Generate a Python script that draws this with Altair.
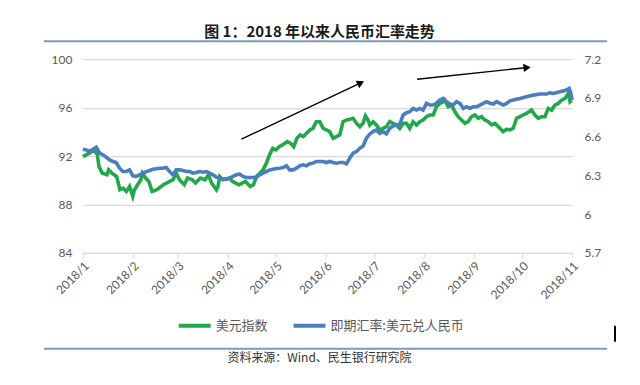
import altair as alt
import pandas as pd

# ---------------- data ----------------
series_names = ["美元指数", "即期汇率:美元兑人民币"]

# 美元指数 (left axis): day offset from 2018-01-01, value
green_days = [0, 2, 4, 7, 9, 10, 12, 15, 16, 18, 21, 23, 25, 27, 29, 31, 32, 34, 36, 37,
              39, 41, 43, 46, 50, 54, 56, 58, 60, 63, 65, 68, 70, 73, 76, 78, 80, 83, 84, 85,
              87, 91, 93, 97, 99, 101, 104, 106, 108, 112, 114, 116, 118, 120, 122, 124, 127, 129, 131, 133,
              135, 137, 139, 141, 143, 145, 147.2, 149.3, 151.3, 153.4, 155.5, 157.5, 159.6, 161.7, 163.8, 165.8,
              167.9, 170, 172.1, 174.1, 175.6, 177.2, 178.3, 180.3, 182.4, 184.5, 186.6, 188.6, 190.7, 192.8,
              194.9, 196.9, 199, 201.1, 203.1, 205.2, 207.3, 209.4, 211.4, 213.5, 215.6, 217.7, 219.7, 221.8,
              223.9, 224.9, 227, 229.1, 231.2, 233.2, 235.3, 237.4, 239.4, 241.5, 243.6, 245.7, 247.7, 249.8,
              251.9, 254, 256, 258.1, 260.2, 261.2, 263.3, 265.4, 267.4, 269.5, 271.6, 273.6, 275.7, 278.8,
              280.9, 283, 285, 287.1, 289.2, 291.3, 293.3, 295.4, 297.5, 299.6, 301.6, 302.7, 303.7]
green_vals = [91.96, 92.10, 92.23, 92.51, 92.10, 91.14, 90.59, 90.45, 90.86, 90.59, 90.31, 89.22, 89.35, 89.08, 89.49, 88.67, 89.20, 89.63, 90.04, 90.59,
              90.18, 89.90, 89.08, 89.22, 89.63, 89.90, 90.04, 90.59, 90.04, 89.63, 90.18, 90.04, 89.77, 90.18, 90.04, 90.45, 89.77, 89.22, 89.49, 90.31,
              90.04, 90.18, 89.90, 89.63, 89.77, 89.90, 89.49, 89.63, 90.31, 90.86, 91.41, 92.10, 92.64, 92.51, 92.78, 92.92, 93.19, 93.06, 92.78, 93.47,
              93.74, 93.61, 93.88, 94.16, 94.29, 94.84, 94.84, 94.29, 94.16, 94.02, 93.47, 93.61, 93.74, 94.84, 94.98, 95.03,
              95.12, 94.70, 94.43, 94.70, 95.31, 94.98, 94.57, 94.84, 94.57, 94.16, 94.29, 94.43, 94.84, 94.70,
              94.57, 94.29, 94.70, 94.70, 94.29, 94.84, 94.57, 94.84, 94.98, 95.25, 95.39, 95.39, 96.08, 96.35,
              96.49, 96.62, 96.08, 96.21, 95.66, 95.25, 94.98, 94.70, 94.84, 95.25, 95.39, 95.12, 95.25, 94.98,
              94.84, 94.57, 94.70, 94.43, 94.16, 94.02, 94.21, 94.16, 94.29, 95.12, 95.25, 95.39, 95.53, 95.80,
              95.39, 95.12, 95.25, 95.25, 95.94, 95.80, 96.21, 96.35, 96.62, 96.76, 97.17, 96.49, 96.62]

# 即期汇率:美元兑人民币 (right axis)
blue_days = [0, 2.1, 4.1, 6.2, 8.3, 10.4, 12.4, 14.5, 16.6, 18.7, 20.7, 22.8, 24.9, 26.9, 29.0, 31.1, 33.2, 35.2, 37.3, 39.4,
             41.5, 43.5, 45.6, 47.7, 49.8, 51.8, 53.9, 56.0, 58.0, 60.1, 62.2, 64.3, 66.3, 68.4, 70.5, 72.6, 74.6, 76.7, 78.8, 80.8,
             82.9, 85.0, 87.1, 89.1, 91.2, 93.3, 95.4, 97.4, 99.5, 101.6, 103.6, 105.7, 107.8, 109.9, 111.9, 114.0, 116.1, 118.2, 120.2, 122.3,
             124.4, 126.5, 128.5, 130.6, 132.7, 134.7, 136.8, 138.9, 141.0, 143.0, 145.1, 147.2, 149.3, 151.3, 153.4, 155.5, 157.5, 159.6, 161.7, 163.8,
             165.8, 167.9, 170.0, 172.1, 174.1, 176.2, 178.3, 180.3, 182.4, 184.5, 186.6, 188.6, 190.7, 192.8, 194.9, 196.9, 199.0, 201.1, 203.1, 205.2,
             207.3, 209.4, 211.4, 213.5, 215.6, 217.7, 219.7, 221.8, 223.9, 226.0, 228.1, 230.1, 232.2, 234.3, 236.4, 238.4, 240.5, 242.6, 244.7, 246.7,
             248.8, 250.9, 253.0, 255.0, 257.1, 259.2, 261.3, 263.3, 265.4, 267.4, 271.6, 275.7, 279.9, 284.0, 288.1, 290.2, 292.3, 296.4, 300.5, 302.2,
             303.0, 304.0]
blue_vals = [6.503, 6.498, 6.485, 6.503, 6.518, 6.472, 6.459, 6.441, 6.420, 6.408, 6.400, 6.356, 6.330, 6.330, 6.343, 6.297, 6.292, 6.305, 6.317, 6.330,
             6.338, 6.348, 6.351, 6.356, 6.356, 6.361, 6.330, 6.305, 6.343, 6.343, 6.338, 6.330, 6.330, 6.317, 6.322, 6.330, 6.325, 6.330, 6.317, 6.305,
             6.287, 6.279, 6.271, 6.271, 6.279, 6.292, 6.305, 6.310, 6.292, 6.284, 6.284, 6.284, 6.287, 6.305, 6.317, 6.330, 6.343, 6.348, 6.353, 6.356,
             6.361, 6.374, 6.343, 6.343, 6.356, 6.374, 6.382, 6.374, 6.390, 6.395, 6.408, 6.408, 6.408, 6.400, 6.408, 6.400, 6.395, 6.400, 6.400, 6.390,
             6.433, 6.472, 6.485, 6.510, 6.528, 6.588, 6.621, 6.639, 6.652, 6.626, 6.639, 6.621, 6.665, 6.683, 6.691, 6.696, 6.768, 6.786, 6.793, 6.819,
             6.806, 6.819, 6.806, 6.858, 6.845, 6.845, 6.858, 6.884, 6.896, 6.871, 6.853, 6.845, 6.871, 6.858, 6.819, 6.832, 6.819, 6.832, 6.832, 6.845,
             6.858, 6.871, 6.858, 6.853, 6.871, 6.858, 6.845, 6.858, 6.878, 6.884, 6.896, 6.909, 6.922, 6.930, 6.930, 6.940, 6.935, 6.948, 6.961, 6.974,
             6.948, 6.884]

left_ticks = [84, 88, 92, 96, 100]
right_ticks = [5.7, 6.0, 6.3, 6.6, 6.9, 7.2]
month_ticks = list(range(1, 12))  # 2018/1 ... 2018/11

# trend arrows (drawn on the left-axis scale)
arrow_start_days = [98.5, 207.7]
arrow_start_vals = [93.4, 98.35]
arrow_end_days = [172.0, 275.3]
arrow_end_vals = [98.0, 99.3]
arrow_angles = [64.7, 83.9]

title_text = "图 1：2018 年以来人民币汇率走势"
source_text = "资料来源：Wind、民生银行研究院"

# ---------------- build ----------------
base = pd.Timestamp("2018-01-01")


def to_dates(days):
    return [(base + pd.Timedelta(days=float(d))).strftime("%Y-%m-%dT%H:%M:%S") for d in days]


green_df = pd.DataFrame({"date": to_dates(green_days), "value": green_vals, "series": series_names[0]})
blue_df = pd.DataFrame({"date": to_dates(blue_days), "value": blue_vals, "series": series_names[1]})
arrow_df = pd.DataFrame({
    "x0": to_dates(arrow_start_days), "y0": arrow_start_vals,
    "x1": to_dates(arrow_end_days), "y1": arrow_end_vals,
    "angle": arrow_angles,
})

GREEN = "#22A84A"
BLUE = "#4A7EC0"
LABEL = "#595959"
GRID = "#D9D9D9"
NUMFONT = "Lato"
CJK = "Noto Sans CJK SC"

W, H = 490, 194

x_scale = alt.Scale(domain=[alt.DateTime(year=2018, month=1, date=1),
                            alt.DateTime(year=2018, month=11, date=1)])
x_axis = alt.Axis(values=[alt.DateTime(year=2018, month=m, date=1) for m in month_ticks],
                  format="%Y/%-m", labelAngle=315, title=None, grid=False,
                  domain=True, domainColor=GRID, ticks=True, tickColor=GRID, tickSize=5,
                  labelColor=LABEL, labelFont=NUMFONT, labelFontSize=12, labelPadding=2,
                  labelOverlap=False, labelFlush=False)

left_scale = alt.Scale(domain=[84, 100], nice=False, zero=False)
left_axis = alt.Axis(values=left_ticks, title=None, grid=True, gridColor=GRID, gridWidth=1.3,
                     domain=False, ticks=False, labelColor=LABEL, labelFont=NUMFONT,
                     labelFontSize=12, labelPadding=11)
right_scale = alt.Scale(domain=[5.7, 7.2], nice=False, zero=False)
right_axis = alt.Axis(orient="right", values=right_ticks, format=".2~f", title=None, grid=False,
                      domain=False, ticks=False, labelColor=LABEL, labelFont=NUMFONT,
                      labelFontSize=12, labelPadding=12)

color_scale = alt.Scale(domain=series_names, range=[GREEN, BLUE])
legend = alt.Legend(orient="none", legendX=94, legendY=249, direction="horizontal", title=None,
                    symbolType="stroke", symbolStrokeWidth=4, symbolSize=1024,
                    labelFont=CJK, labelFontSize=13, labelColor=LABEL, labelOffset=3,
                    columnPadding=17, padding=0)

green = alt.Chart(green_df).mark_line(strokeWidth=3.6).encode(
    x=alt.X("date:T", scale=x_scale, axis=x_axis),
    y=alt.Y("value:Q", scale=left_scale, axis=left_axis),
    color=alt.Color("series:N", scale=color_scale, legend=legend, sort=series_names),
)

arrow_lines = alt.Chart(arrow_df).mark_rule(color="black", strokeWidth=1.4).encode(
    x=alt.X("x0:T", scale=x_scale, axis=x_axis), x2="x1:T",
    y=alt.Y("y0:Q", scale=left_scale, axis=left_axis), y2="y1:Q",
)
arrow_heads = alt.Chart(arrow_df).mark_point(shape="triangle", filled=True, color="black",
                                             size=70, opacity=1).encode(
    x=alt.X("x1:T", scale=x_scale, axis=x_axis),
    y=alt.Y("y1:Q", scale=left_scale, axis=left_axis),
    angle=alt.Angle("angle:Q", scale=None),
)

deco_df = pd.DataFrame({"k": [0]})
title_mark = alt.Chart(deco_df).mark_text(font=CJK, fontSize=15, fontWeight="bold", color="#1a1a1a",
                                          align="center", baseline="middle").encode(
    x=alt.value(237), y=alt.value(-27), text=alt.value(title_text))
top_line = alt.Chart(deco_df).mark_rule(color="#7F98B8", strokeWidth=2).encode(
    x=alt.value(-39), x2=alt.value(525), y=alt.value(-18))
bottom_line = alt.Chart(deco_df).mark_rule(color="#7F98B8", strokeWidth=2).encode(
    x=alt.value(-39), x2=alt.value(525), y=alt.value(290))
source_mark = alt.Chart(deco_df).mark_text(font=CJK, fontSize=12, color="#333333",
                                           align="center", baseline="middle").encode(
    x=alt.value(237), y=alt.value(299), text=alt.value(source_text))
bar_mark = alt.Chart(deco_df).mark_rule(color="black", strokeWidth=2).encode(
    x=alt.value(533), y=alt.value(267), y2=alt.value(283))

left_layer = alt.layer(green, arrow_lines, arrow_heads, title_mark, top_line, bottom_line,
                       source_mark, bar_mark)

blue = alt.Chart(blue_df).mark_line(strokeWidth=3.6).encode(
    x=alt.X("date:T", scale=x_scale, axis=x_axis),
    y=alt.Y("value:Q", scale=right_scale, axis=right_axis),
    color=alt.Color("series:N", scale=color_scale, legend=legend, sort=series_names),
)

chart = alt.layer(left_layer, blue).resolve_scale(y="independent").properties(
    width=W, height=H,
    autosize=alt.AutoSizeParams(type="none"),
    padding={"left": 75, "top": 51, "right": 60, "bottom": 120},
    background="white",
).configure_view(stroke=None)

chart.save("out.html", embed_options={"renderer": "svg", "actions": False})
